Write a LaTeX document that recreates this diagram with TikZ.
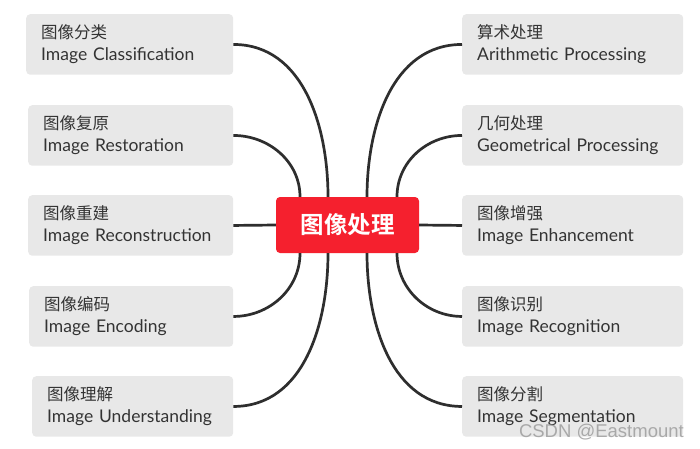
\documentclass[tikz,border=0pt]{standalone}
\usepackage{fontspec}
\setmainfont{Lato}
\newfontfamily\cjk{Noto Sans CJK SC}
\newfontfamily\cjkbold{Noto Sans CJK SC Bold}
\newfontfamily\wmfont{Liberation Sans}
\definecolor{boxgray}{HTML}{E8E8E8}
\definecolor{textgray}{HTML}{333333}
\definecolor{linegray}{HTML}{2E2E2E}
\definecolor{cred}{HTML}{F5202E}
\newcommand{\zh}[1]{{\cjk\fontsize{16.5}{22}\selectfont #1}}
\tikzset{
  leaf/.style={fill=boxgray, rounded corners=4pt, anchor=north west, minimum height=60.5pt,
    inner xsep=15pt, inner ysep=0pt, text=textgray, align=left,
    font=\fontsize{17.5}{22}\selectfont},
  hub/.style={fill=cred, rounded corners=4pt, minimum width=143pt, minimum height=56pt,
    inner sep=0pt, text=white, font=\cjkbold\fontsize{23.5}{26}\selectfont},
  link/.style={line width=2.7pt, draw=linegray}
}
\begin{document}
\begin{tikzpicture}[x=1pt,y=1pt]
\useasboundingbox[fill=white] (0,0) rectangle (700,-448);
% left boxes
\node[leaf, text width=177pt] (L1) at (26,-14)  {\zh{图像分类}\\Image Classification};
\node[leaf, text width=175pt] (L2) at (28,-105) {\zh{图像复原}\\Image Restoration};
\node[leaf, text width=175pt] (L3) at (28,-195) {\zh{图像重建}\\Image Reconstruction};
\node[leaf, text width=174pt] (L4) at (29,-286) {\zh{图像编码}\\Image Encoding};
\node[leaf, text width=171pt] (L5) at (32,-376) {\zh{图像理解}\\Image Understanding};
% right boxes
\node[leaf, text width=191pt] (R1) at (462,-14)  {\zh{算术处理}\\Arithmetic Processing};
\node[leaf, text width=191pt] (R2) at (462,-105) {\zh{几何处理}\\Geometrical Processing};
\node[leaf, text width=191pt] (R3) at (462,-195) {\zh{图像增强}\\Image Enhancement};
\node[leaf, text width=191pt] (R4) at (462,-286) {\zh{图像识别}\\Image Recognition};
\node[leaf, text width=191pt] (R5) at (462,-376) {\zh{图像分割}\\Image Segmentation};
% hub
\node[hub] (C) at (347.5,-225) {图像处理};
% links
\draw[link] (L1.east) to[out=0,in=90] ([xshift=-19.5pt]C.north);
\draw[link] (L2.east) to[out=0,in=90] ([xshift=-47.5pt]C.north);
\draw[link] (L3.east) -- (C.west);
\draw[link] (L4.east) to[out=0,in=-90] ([xshift=-47.5pt]C.south);
\draw[link] (L5.east) to[out=0,in=-90] ([xshift=-19.5pt]C.south);
\draw[link] (R1.west) to[out=180,in=90] ([xshift=19.5pt]C.north);
\draw[link] (R2.west) to[out=180,in=90] ([xshift=49.5pt]C.north);
\draw[link] (R3.west) -- (C.east);
\draw[link] (R4.west) to[out=180,in=-90] ([xshift=49.5pt]C.south);
\draw[link] (R5.west) to[out=180,in=-90] ([xshift=19.5pt]C.south);
% watermark
\node[anchor=south east, inner sep=0pt, text=black!40, opacity=0.8, font=\wmfont\fontsize{18.5}{18.5}\selectfont] (W) at (684,-440) {CSDN @Eastmount};
\end{tikzpicture}
\end{document}
